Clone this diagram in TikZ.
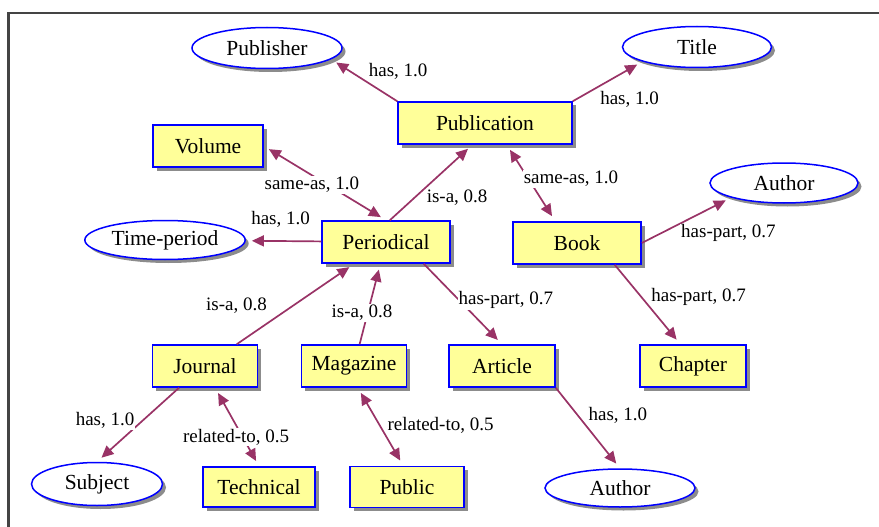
\documentclass[tikz,border=0pt]{standalone}
\usepackage{fontspec}
\setmainfont{Liberation Serif}
\usetikzlibrary{shapes.geometric}
\usetikzlibrary{shadows}
\usetikzlibrary{arrows.meta}

\definecolor{boxfill}{HTML}{FFFF99}
\definecolor{boxline}{HTML}{0000FF}
\definecolor{relcol}{HTML}{993366}
\definecolor{framecol}{HTML}{444444}

\begin{document}
\begin{tikzpicture}[x=1pt,y=-1pt,>={Triangle[length=12pt,width=11pt]},
	concept/.style={rectangle,draw=boxline,line width=1.5pt,fill=boxfill,
		minimum height=42pt,font=\fontsize{21.5}{24}\selectfont,
		drop shadow={shadow xshift=3.5pt,shadow yshift=-3.5pt,fill=black!45,opacity=1}},
	attr/.style={ellipse,draw=boxline,line width=1.5pt,fill=white,
		font=\fontsize{21.5}{24}\selectfont,
		drop shadow={shadow xshift=3.5pt,shadow yshift=-3.5pt,fill=black!45,opacity=1}},
	rel/.style={draw=relcol,line width=1.7pt,->,shorten >=6pt},
	sym/.style={rel,<->,shorten <=6pt},
	lbl/.style={fill=white,inner sep=1pt,font=\fontsize{19}{21}\selectfont}]
	
	\useasboundingbox (0,0) rectangle (879,527);
	\draw[framecol,line width=2.5pt] (8.5,527) -- (8.5,13) -- (879,13);
	
	\node[concept,minimum width=174pt] (pub) at (485,123) {Publication};
	\node[attr,minimum width=150pt,minimum height=41pt] (publisher) at (267,48) {Publisher};
	\node[attr,minimum width=149pt,minimum height=41pt] (title) at (697,47) {Title};
	\node[concept,minimum width=110pt] (volume) at (208,146) {Volume};
	\node[concept,minimum width=128pt] (periodical) at (386,242) {Periodical};
	\node[attr,minimum width=156pt,minimum height=39pt] (timeper) at (165,240) {Time-period};
	\node[concept,minimum width=128pt] (book) at (577,243) {Book};
	\node[attr,minimum width=148pt,minimum height=40pt] (author1) at (784,183) {Author};
	\node[concept,minimum width=105pt] (journal) at (205,366) {Journal};
	\node[concept,minimum width=105pt] (magazine) at (354,366) {Magazine};
	\node[concept,minimum width=106pt] (article) at (502,366) {Article};
	\node[concept,minimum width=106pt] (chapter) at (693,366) {Chapter};
	\node[attr,minimum width=131pt,minimum height=43pt] (subject) at (97,484) {Subject};
	\node[concept,minimum width=112pt,minimum height=40pt] (technical) at (259,487) {Technical};
	\node[concept,minimum width=114pt,minimum height=41pt] (public) at (407,487) {Public};
	\node[attr,minimum width=150pt,minimum height=38pt] (author2) at (620,488) {Author};
	
	\path
	(pub.north west) edge[rel] node[lbl,xshift=34pt,yshift=9pt] {has, 1.0} (publisher.-10)
	(pub.north east) edge[rel] node[lbl,xshift=22pt,yshift=-18pt] {has, 1.0} (title.195)
	(volume.east) edge[sym] node[lbl,xshift=-13pt,yshift=-2pt] {same-as, 1.0} (periodical.north)
	(periodical.80) edge[rel] node[lbl,xshift=26pt,yshift=-15pt] {is-a, 0.8} (pub.-120)
	(pub.-45) edge[sym] node[lbl,xshift=40pt,yshift=4pt] {same-as, 1.0} (book.135)
	(periodical) edge[rel] node[lbl,xshift=-3pt,yshift=22pt] {has, 1.0} (timeper)
	(book.east) edge[rel] node[lbl,xshift=42pt,yshift=-13pt] {has-part, 0.7} (author1.south west)
	(book.-30) edge[rel] node[lbl,xshift=51pt,yshift=8pt] {has-part, 0.7} (chapter.120)
	(journal) edge[rel] node[lbl,xshift=-59pt,yshift=-2pt] {is-a, 0.8} (periodical)
	(magazine) edge[rel] node[lbl,xshift=-8pt,yshift=-9pt] {is-a, 0.8} (periodical)
	(periodical.-30) edge[rel] node[lbl,xshift=43pt,yshift=4pt] {has-part, 0.7} (article.north)
	(journal.-140) edge[rel] node[lbl,xshift=-33pt,yshift=4pt] {has, 1.0} (subject.north)
	(journal.-65) edge[sym] node[lbl,xshift=-1pt,yshift=-10pt] {related-to, 0.5} (technical.north)
	(magazine.-80) edge[sym] node[lbl,xshift=60pt,yshift=1pt] {related-to, 0.5} (public.100)
	(article.south east) edge[rel] node[lbl,xshift=30pt,yshift=13pt] {has, 1.0} (author2.north);
\end{tikzpicture}
\end{document}
